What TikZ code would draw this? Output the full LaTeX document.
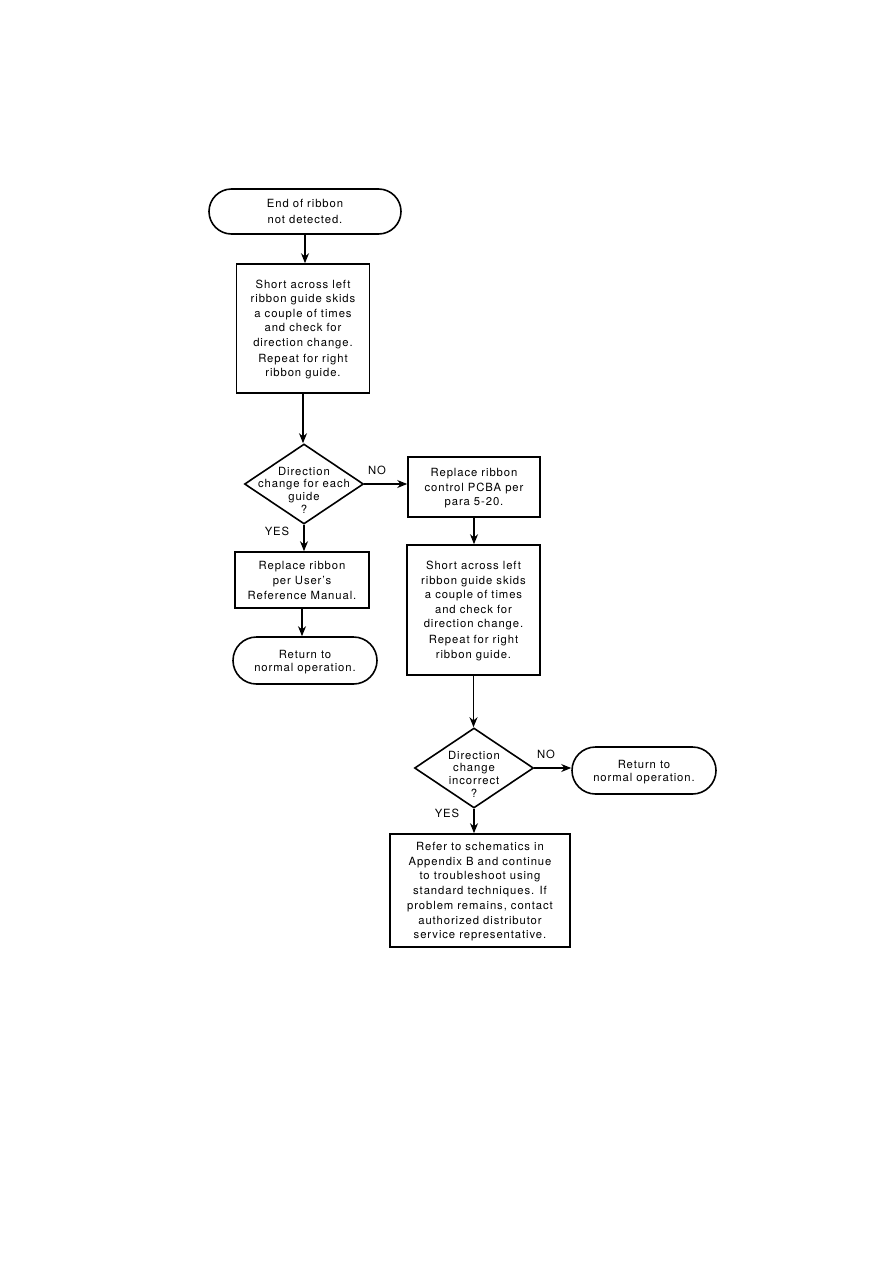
\documentclass[tikz,border=0pt]{standalone}
\usepackage{fontspec}
\setmainfont[LetterSpace=8]{TeX Gyre Heros}
\usetikzlibrary{positioning, shapes.geometric, shapes.misc, arrows.meta}
\tikzset{
	flowbox/.style={draw, line width=1.6pt, rectangle, inner sep=0pt, align=center, text depth=0pt, font=\fontsize{11.3}{14.5}\selectfont},
	termbox/.style={draw, line width=1.6pt, rounded rectangle, inner sep=0pt, align=center, text depth=0pt, font=\fontsize{11.3}{13}\selectfont},
	decision/.style={draw, line width=1.6pt, diamond, inner sep=0pt, minimum width=119pt, minimum height=80pt},
	dtext/.style={align=center, inner sep=0pt, font=\fontsize{11.3}{12.7}\selectfont},
	yesno/.style={font=\fontsize{11.3}{13}\selectfont, inner sep=0pt},
	flow/.style={line width=1.2pt, -{Stealth[length=10pt,width=8pt]}}
}
\begin{document}
\begin{tikzpicture}[x=1pt, y=-1pt]
  \useasboundingbox (0,0) rectangle (893,1263);
  \node[termbox, minimum width=192pt, minimum height=45pt] (start) at (305,211.5) {End of ribbon\\[3.5pt]not detected.};
  \node[flowbox, minimum width=133pt, minimum height=129pt] (shortA) at (303,328.5) {Short across left\\ribbon guide skids\\a couple of times\\and check for\\direction change.\\[1.5pt]Repeat for right\\ribbon guide.};
  \node[decision] (dirA) at (304,484) {};
  \node[dtext] (dirAtxt) at (304,490) {Direction\\change for each\\guide\\?};
  \node[flowbox, minimum width=132pt, minimum height=60pt] (pcba) at (474,487) {Replace ribbon\\control PCBA per\\para 5-20.};
  \node[flowbox, minimum width=134pt, minimum height=56pt, font=\fontsize{11.3}{15}\selectfont] (ribbon) at (302,580) {Replace ribbon\\per User's\\Reference Manual.};
  \node[termbox, minimum width=144pt, minimum height=47pt] (retA) at (305,660.5) {Return to\\normal operation.};
  \node[flowbox, minimum width=133pt, minimum height=130pt] (shortB) at (473.5,610) {Short across left\\ribbon guide skids\\a couple of times\\and check for\\direction change.\\[1.5pt]Repeat for right\\ribbon guide.};
  \node[decision] (dirB) at (474,768) {};
  \node[dtext] (dirBtxt) at (474,774) {Direction\\change\\incorrect\\?};
  \node[termbox, minimum width=144pt, minimum height=47pt] (retB) at (644,770.5) {Return to\\normal operation.};
  \node[flowbox, minimum width=180pt, minimum height=113pt, font=\fontsize{11.3}{14.7}\selectfont] (schem) at (480,890.5) {Refer to schematics in\\Appendix B and continue\\to troubleshoot using\\standard techniques. If\\problem remains, contact\\authorized distributor\\service representative.};
  \node[yesno] (noA) at (377,470) {NO};
  \node[yesno] (yesA) at (277,531) {YES};
  \node[yesno] (noB) at (546,754) {NO};
  \node[yesno] (yesB) at (447,813) {YES};
  \foreach \a/\b in {start/shortA, shortA/dirA, dirA/ribbon, ribbon/retA, pcba/shortB, shortB/dirB}
    \draw[flow] (\a.south) -- (\a.south |- \b.north);
  \draw[flow] (dirA.east) -- (dirA.east -| pcba.west);
  \draw[flow] (dirB.east) -- (dirB.east -| retB.west);
  \draw[flow] (dirB.south) -- (dirB.south |- schem.north);
\end{tikzpicture}
\end{document}
